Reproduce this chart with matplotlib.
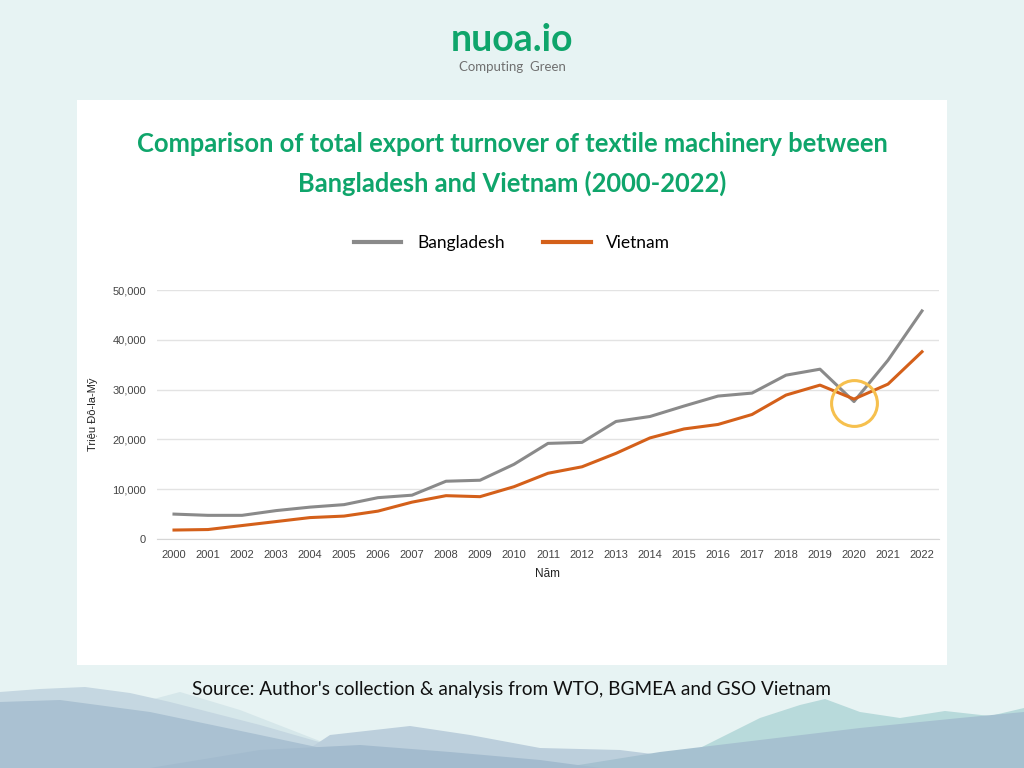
import matplotlib.pyplot as plt
from matplotlib.patches import Rectangle, Polygon
from matplotlib.ticker import FuncFormatter

# data (millions USD)
years = [str(y) for y in range(2000, 2023)]
bangladesh = [5000, 4750, 4750, 5700, 6400, 6900, 8300, 8800, 11600, 11800, 15000,
              19200, 19400, 23600, 24600, 26700, 28700, 29300, 32900, 34100, 27600,
              35900, 45800]
vietnam = [1800, 1900, 2700, 3500, 4300, 4600, 5600, 7400, 8700, 8500, 10500,
           13200, 14500, 17200, 20300, 22100, 23000, 25000, 28900, 30900, 28100,
           31100, 37600]
yticks = [0, 10000, 20000, 30000, 40000, 50000]

GREEN = '#0fa56b'
GRAY = '#8a8a8a'
ORANGE = '#d4601a'
BG = '#e7f3f3'

fig = plt.figure(figsize=(10.24, 7.68), dpi=100)
fig.patch.set_facecolor(BG)

# background layer in pixel coords
bg = fig.add_axes([0, 0, 1, 1])
bg.set_xlim(0, 1024)
bg.set_ylim(768, 0)
bg.axis('off')

# mountains (decoration)
hills = [
    ('#d6e7ea', [(120, 768), (150, 700), (180, 692), (240, 710), (330, 745), (420, 768)]),
    ('#c5d7e1', [(0, 768), (0, 692), (40, 689), (85, 687), (130, 693), (170, 702),
                 (260, 725), (340, 748), (420, 768)]),
    ('#b8dadb', [(640, 768), (700, 748), (760, 718), (800, 705), (825, 699), (860, 712),
                 (900, 718), (945, 711), (990, 716), (1024, 708), (1024, 768)]),
    ('#bccfdc', [(280, 768), (330, 735), (410, 726), (470, 735), (540, 748), (620, 750),
                 (700, 760), (760, 768)]),
    ('#aac1d2', [(0, 768), (0, 702), (60, 700), (150, 712), (260, 735), (340, 752),
                 (400, 768)]),
    ('#a6c1d0', [(560, 768), (660, 752), (760, 740), (860, 728), (960, 718), (1024, 712),
                 (1024, 768)]),
    ('#a3bbce', [(150, 768), (260, 750), (360, 745), (450, 752), (540, 760), (600, 768)]),
]
for col, pts in hills:
    bg.add_patch(Polygon(pts, closed=True, facecolor=col, edgecolor='none'))

# white card
bg.add_patch(Rectangle((77, 100), 870, 565, facecolor='white', edgecolor='none'))

# logo
bg.text(512, 40, 'nuoa.io', ha='center', va='center', color=GREEN,
        fontsize=27, fontweight='bold', family='Lato')
bg.text(512, 67, 'Computing  Green', ha='center', va='center', color='#707070',
        fontsize=9.5, family='Lato')

# title
bg.text(512, 144, 'Comparison of total export turnover of textile machinery between',
        ha='center', va='center', color=GREEN, fontsize=18.4, fontweight='bold', family='Lato')
bg.text(512, 183, 'Bangladesh and Vietnam (2000-2022)',
        ha='center', va='center', color=GREEN, fontsize=18.4, fontweight='bold', family='Lato')

# source
bg.text(512, 690, "Source: Author's collection & analysis from WTO, BGMEA and GSO Vietnam",
        ha='center', va='center', color='#111111', fontsize=13.7, family='Lato')

# chart
ax = fig.add_axes([157 / 1024, 1 - 539 / 768, (939 - 157) / 1024, (539 - 290) / 768])
ax.set_facecolor('none')
x = range(len(years))
ax.plot(x, bangladesh, color=GRAY, lw=2.2, label='Bangladesh', solid_joinstyle='round')
ax.plot(x, vietnam, color=ORANGE, lw=2.2, label='Vietnam', solid_joinstyle='round')

# highlight the 2020 dip
ax.plot([20], [27300], marker='o', ms=33, mfc='none', mec='#f6c04e', mew=2.2, clip_on=False)

ax.set_xlim(-0.5, len(years) - 0.5)
ax.set_ylim(0, 50000)
ax.set_xticks(list(x))
ax.set_xticklabels(years)
ax.set_yticks(yticks)
ax.yaxis.set_major_formatter(FuncFormatter(lambda v, p: f'{int(v):,}'))
ax.grid(axis='y', color='#e3e3e3', lw=1)
ax.set_axisbelow(True)
for s in ax.spines.values():
    s.set_visible(False)
ax.spines['bottom'].set_visible(True)
ax.spines['bottom'].set_color('#d6d6d6')
ax.tick_params(length=0, labelsize=8, labelcolor='#444444', pad=8)
for lab in ax.get_xticklabels() + ax.get_yticklabels():
    lab.set_family('Liberation Sans')
ax.set_xlabel('Năm', fontsize=8.5, color='#222222', family='Liberation Sans', labelpad=6)
ax.set_ylabel('Triệu Đô-la-Mỹ', fontsize=8, color='#222222', family='Liberation Sans',
              labelpad=10)

leg = fig.legend(loc='center', bbox_to_anchor=(512 / 1024, 1 - 243 / 768), ncol=2,
                 frameon=False, prop={'family': 'Lato', 'size': 12.5}, handlelength=2.75,
                 columnspacing=2.2, handletextpad=0.9)
for h in leg.get_lines():
    h.set_linewidth(3)

fig.savefig('out.png', dpi=100, facecolor=BG)
